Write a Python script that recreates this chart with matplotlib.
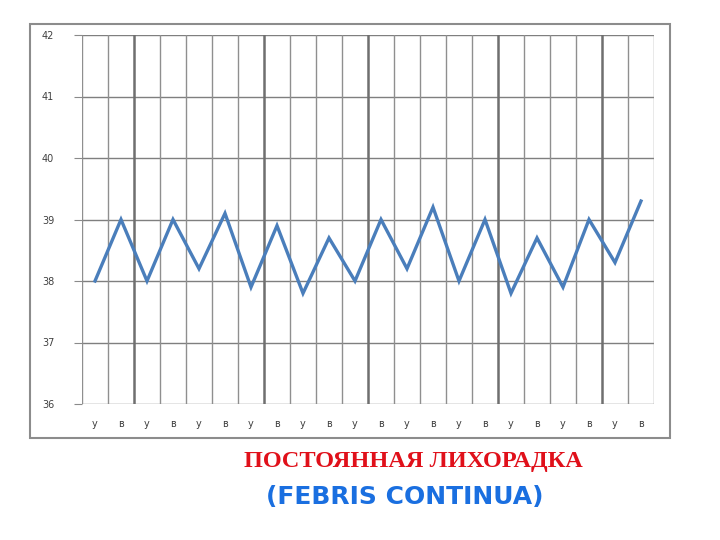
import matplotlib
matplotlib.use("Agg")
import matplotlib.pyplot as plt
from matplotlib.patches import Rectangle
import numpy as np

categories = ["у", "в"] * 11
temps = [38.0, 39.0, 38.0, 39.0, 38.2, 39.1, 37.9, 38.9, 37.8, 38.7, 38.0,
         39.0, 38.2, 39.2, 38.0, 39.0, 37.8, 38.7, 37.9, 39.0, 38.3, 39.3]
y_ticks = [36, 37, 38, 39, 40, 41, 42]
title_ru = "ПОСТОЯННАЯ ЛИХОРАДКА"
title_la = "(FEBRIS CONTINUA)"

fig = plt.figure(figsize=(7.2, 5.4), dpi=100)
fig.patch.set_facecolor("white")

# outer chart frame
fig.patches.append(Rectangle((30/720, 1-438/540), 640/720, 414/540,
                             transform=fig.transFigure, fill=False,
                             edgecolor="#8c8c8c", linewidth=1.5))

ax = fig.add_axes([82/720, 1-404/540, 572/720, 369/540])
n = len(temps)
x = np.arange(n)
ax.set_xlim(-0.5, n - 0.5)
ax.set_ylim(36, 42)

# gridlines
for yv in y_ticks:
    ax.axhline(yv, color="#7f7f7f", linewidth=1.0, zorder=1)
dark = {2, 7, 11, 16, 20}
for k in range(n + 1):
    ax.axvline(k - 0.5, color="#6f6f6f" if k in dark else "#8f8f8f",
               linewidth=1.8 if k in dark else 1.0, zorder=1)

ax.plot(x, temps, color="#4a7ebb", linewidth=2.4, zorder=3,
        solid_joinstyle="miter")

for s in ax.spines.values():
    s.set_visible(False)
ax.set_yticks(y_ticks)
ax.set_yticklabels([str(v) for v in y_ticks], fontsize=7, color="#404040")
ax.tick_params(axis="y", length=6, width=0.8, color="#8a8a8a", pad=14)
ax.set_xticks(x)
ax.set_xticklabels(categories, fontsize=7, color="#404040")
ax.tick_params(axis="x", length=0, pad=11)

fig.text(413/720, 1-462/540, title_ru, color="#e0101a", fontsize=17.5,
         fontweight="bold", family="Liberation Serif", ha="center", va="center")
fig.text(405/720, 1-497/540, title_la, color="#1a6fe0", fontsize=18,
         fontweight="heavy", family="DejaVu Sans", ha="center", va="center")

fig.savefig("out.png", dpi=100)
